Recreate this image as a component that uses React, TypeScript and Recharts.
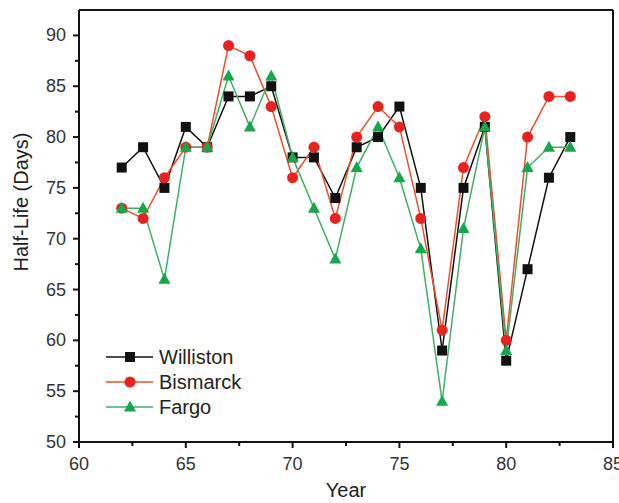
import { LineChart, Line, XAxis, YAxis, ReferenceLine, Label } from "recharts";

const years = [62, 63, 64, 65, 66, 67, 68, 69, 70, 71, 72, 73, 74, 75, 76, 77, 78, 79, 80, 81, 82, 83];
const williston = [77, 79, 75, 81, 79, 84, 84, 85, 78, 78, 74, 79, 80, 83, 75, 59, 75, 81, 58, 67, 76, 80];
const bismarck = [73, 72, 76, 79, 79, 89, 88, 83, 76, 79, 72, 80, 83, 81, 72, 61, 77, 82, 60, 80, 84, 84];
const fargo = [73, 73, 66, 79, 79, 86, 81, 86, 78, 73, 68, 77, 81, 76, 69, 54, 71, 81, 59, 77, 79, 79];

const xTicks = [60, 62.5, 65, 67.5, 70, 72.5, 75, 77.5, 80, 82.5, 85];
const yTicks = [50, 52.5, 55, 57.5, 60, 62.5, 65, 67.5, 70, 72.5, 75, 77.5, 80, 82.5, 85, 87.5, 90];

const data = years.map((year, i) => ({
  year,
  williston: williston[i],
  bismarck: bismarck[i],
  fargo: fargo[i],
}));

const FONT = "'Liberation Sans', Arial, sans-serif";
const BLACK = "#111";
const RED = "#e8231f";
const RED_LINE = "#e9502e";
const GREEN = "#16a74a";
const GREEN_LINE = "#43ad67";

const isMajor = (v: number) => v % 5 === 0;

const Square = ({ cx, cy }: any) => <rect x={cx - 5} y={cy - 5} width={10} height={10} fill={BLACK} />;
const Circle = ({ cx, cy }: any) => <circle cx={cx} cy={cy} r={5.5} fill={RED} />;
const Triangle = ({ cx, cy }: any) => (
  <polygon points={`${cx},${cy - 6.5} ${cx + 6},${cy + 4.5} ${cx - 6},${cy + 4.5}`} fill={GREEN} />
);

const XTick = ({ x, y, payload }: any) => {
  const major = isMajor(payload.value);
  return (
    <g>
      <line x1={x} x2={x} y1={y} y2={y + (major ? 6 : 4)} stroke={BLACK} strokeWidth={2} />
      {major && (
        <text x={x} y={y + 28} textAnchor="middle" fontSize={18} fill="#333" fontFamily={FONT}>
          {payload.value}
        </text>
      )}
    </g>
  );
};

const YTick = ({ x, y, payload }: any) => {
  const major = isMajor(payload.value);
  return (
    <g>
      <line x1={x - (major ? 6 : 4)} x2={x} y1={y} y2={y} stroke={BLACK} strokeWidth={2} />
      {major && (
        <text x={x - 13} y={y + 6} textAnchor="end" fontSize={18} fill="#333" fontFamily={FONT}>
          {payload.value}
        </text>
      )}
    </g>
  );
};

// rotated y-axis title, sitting a little above the axis middle
const YTitle = ({ viewBox }: any) => {
  const x = viewBox.x + 28;
  const y = viewBox.y + viewBox.height / 2 - 24;
  return (
    <text
      x={x}
      y={y}
      transform={`rotate(-90, ${x}, ${y})`}
      textAnchor="middle"
      fontSize={20}
      fill="#222"
      fontFamily={FONT}
    >
      Half-Life (Days)
    </text>
  );
};

const legendRows = [
  { name: "Williston", line: BLACK, mark: <rect x={-5} y={-5} width={10} height={10} fill={BLACK} /> },
  { name: "Bismarck", line: RED_LINE, mark: <circle r={5.5} fill={RED} /> },
  { name: "Fargo", line: GREEN_LINE, mark: <polygon points="0,-6.5 6,4.5 -6,4.5" fill={GREEN} /> },
];

// legend sits inside the plot, lower left
const LegendBox = () => (
  <svg width={150} height={80} style={{ position: "absolute", left: 106, top: 347, overflow: "visible" }}>
    {legendRows.map((r, i) => (
      <g key={r.name} transform={`translate(0, ${10 + i * 25})`}>
        <line x1={0} x2={47} y1={0} y2={0} stroke={r.line} strokeWidth={1.5} />
        <g transform="translate(24, 0)">{r.mark}</g>
        <text x={53} y={7} fontSize={20} fill="#222" fontFamily={FONT}>
          {r.name}
        </text>
      </g>
    ))}
  </svg>
);

export default function App() {
  return (
    <div style={{ position: "absolute", left: 0, top: 0, width: 619, height: 503, background: "#fff" }}>
      <LineChart width={619} height={503} data={data} margin={{ top: 10, right: 6, bottom: 0, left: 0 }}>
        <XAxis
          dataKey="year"
          type="number"
          domain={[60, 85]}
          ticks={xTicks}
          interval={0}
          tickLine={false}
          tickSize={0}
          tickMargin={0}
          tick={<XTick />}
          axisLine={{ stroke: BLACK, strokeWidth: 2 }}
          height={61}
          label={{
            value: "Year",
            position: "insideBottom",
            offset: 0,
            dy: -6,
            fontSize: 20,
            fill: "#222",
            fontFamily: FONT,
          }}
        />
        <YAxis
          type="number"
          domain={[50, 92.5]}
          ticks={yTicks}
          interval={0}
          tickLine={false}
          tickSize={0}
          tickMargin={0}
          tick={<YTick />}
          axisLine={{ stroke: BLACK, strokeWidth: 2 }}
          width={79}
        >
          <Label content={<YTitle />} />
        </YAxis>
        <ReferenceLine y={92.5} stroke={BLACK} strokeWidth={2} />
        <ReferenceLine x={85} stroke={BLACK} strokeWidth={2} />
        <Line dataKey="williston" stroke={BLACK} strokeWidth={1.5} dot={<Square />} isAnimationActive={false} />
        <Line dataKey="bismarck" stroke={RED_LINE} strokeWidth={1.5} dot={<Circle />} isAnimationActive={false} />
        <Line dataKey="fargo" stroke={GREEN_LINE} strokeWidth={1.5} dot={<Triangle />} isAnimationActive={false} />
      </LineChart>
      <LegendBox />
    </div>
  );
}
